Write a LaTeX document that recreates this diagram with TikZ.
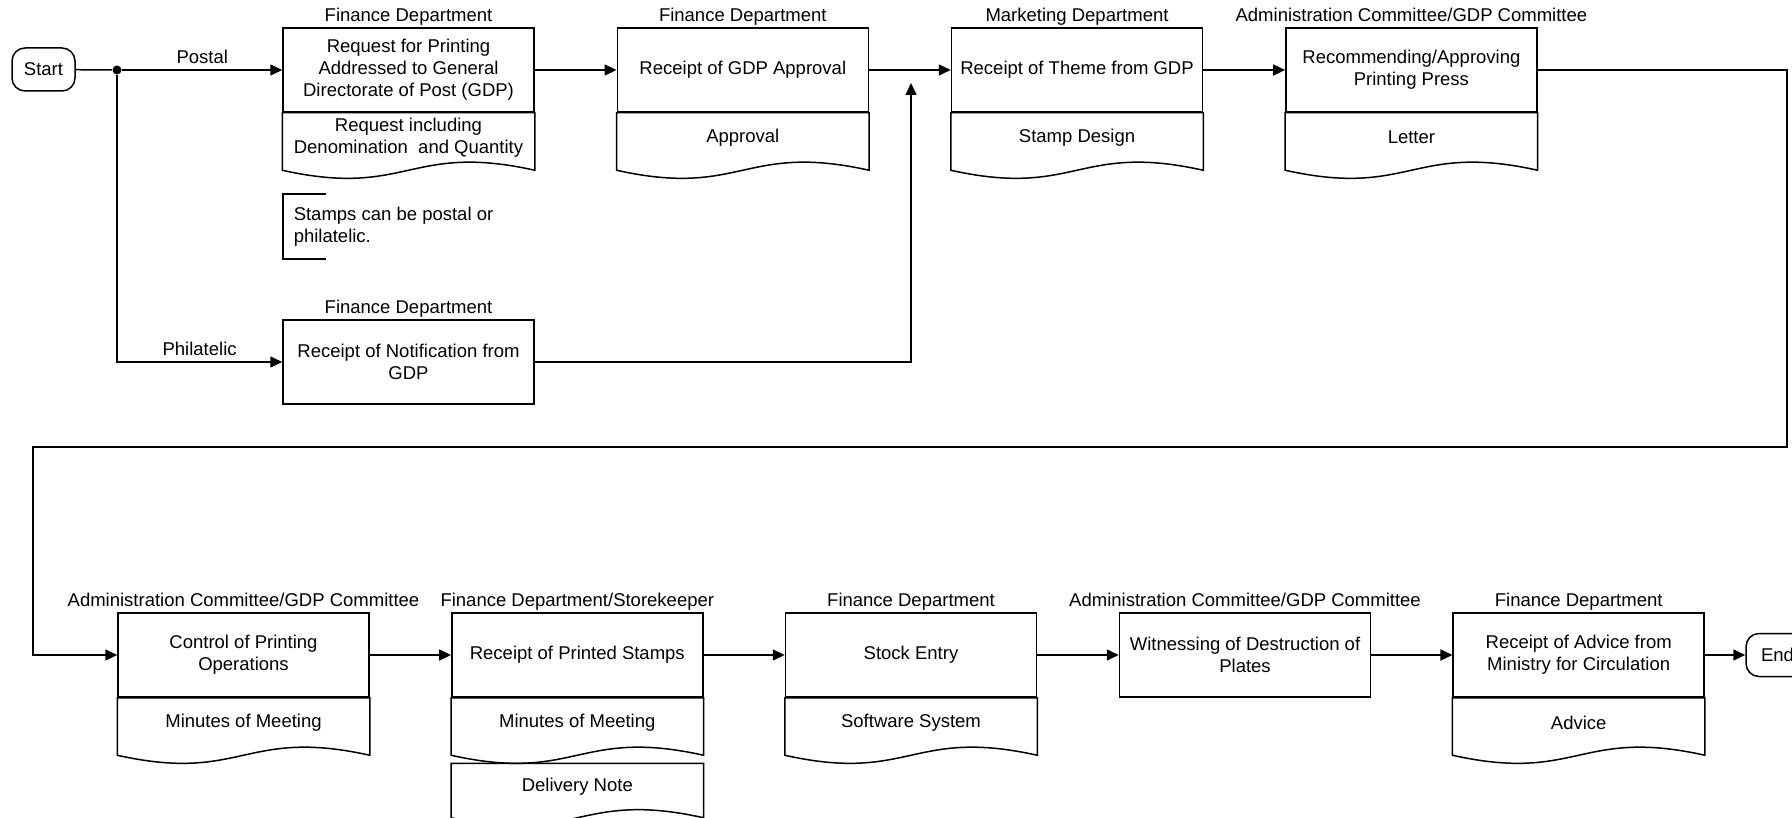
\documentclass[tikz,border=0pt]{standalone}
\usepackage{fontspec}
\setmainfont{Liberation Sans}
\usetikzlibrary{positioning,arrows.meta,calc}

\begin{document}
\begin{tikzpicture}[x=0.5pt,y=-0.5pt,line width=0.75pt,
    font=\fontsize{9.25}{11}\selectfont,
    >={Triangle[length=6pt,width=5.5pt]}]
\tikzset{
    terminal/.style={draw, rounded corners=6.5pt, minimum width=31.5pt,
                     minimum height=21.5pt, inner sep=1pt},
    process/.style={draw, rectangle, minimum width=125.5pt,
                    minimum height=42pt, align=center, inner sep=2pt},
    docpart/.style={rectangle, minimum width=125.5pt,
                    minimum height=24pt, align=center, inner sep=2pt},
    owner/.style={anchor=base, inner sep=0pt},
    branch/.style={above, inner sep=3pt},
    jdot/.style={circle, fill, inner sep=0pt, minimum size=4.5pt},
    note/.style={anchor=west, minimum height=31.5pt, inner xsep=5pt, align=left}
}
\useasboundingbox (0,0) rectangle (1792,818);

% upper row
\node[terminal] (start) at (43.5,69.5) {Start};
\node[jdot] (jct) at (117,70) {};

\node[owner] (o1) at (408.5,21.6) {Finance Department};
\node[process] (p1) at (408.5,70) {Request for Printing\\Addressed to General\\Directorate of Post (GDP)};
\node[docpart, below=0pt of p1] (d1) {Request including\\Denomination\ \ and Quantity};

\node[owner] (o2) at (742.8,21.6) {Finance Department};
\node[process] (p2) at (742.8,70) {Receipt of GDP Approval};
\node[docpart, below=0pt of p2] (d2) {Approval};

\node[owner] (o3) at (1077,21.6) {Marketing Department};
\node[process] (p3) at (1077,70) {Receipt of Theme from GDP};
\node[docpart, below=0pt of p3] (d3) {Stamp Design};

\node[owner] (o4) at (1411.4,21.6) {Administration Committee/GDP Committee};
\node[process] (p4) at (1411.4,70) {Recommending/Approving\\Printing Press};
\node[docpart, below=0pt of p4] (d4) {Letter};

\node[note] (nt) at (283,226.5) {Stamps can be postal or\\philatelic.};

\node[owner] (ox) at (408.5,313.6) {Finance Department};
\node[process] (px) at (408.5,362) {Receipt of Notification from\\GDP};

% lower row
\node[owner] (r1) at (243.5,606.6) {Administration Committee/GDP Committee};
\node[process] (q1) at (243.5,655) {Control of Printing\\Operations};
\node[docpart, below=0pt of q1] (e1) {Minutes of Meeting};

\node[owner] (r2) at (577.3,606.6) {Finance Department/Storekeeper};
\node[process] (q2) at (577.3,655) {Receipt of Printed Stamps};
\node[docpart, below=0pt of q2] (e2) {Minutes of Meeting};
\node[docpart, below=8pt of e2, minimum height=22.5pt] (e2b) {Delivery Note};

\node[owner] (r3) at (911,606.6) {Finance Department};
\node[process] (q3) at (911,655) {Stock Entry};
\node[docpart, below=0pt of q3] (e3) {Software System};

\node[owner] (r4) at (1245,606.6) {Administration Committee/GDP Committee};
\node[process] (q4) at (1245,655) {Witnessing of Destruction of\\Plates};

\node[owner] (r5) at (1578.7,606.6) {Finance Department};
\node[process] (q5) at (1578.7,655) {Receipt of Advice from\\Ministry for Circulation};
\node[docpart, below=0pt of q5] (e5) {Advice};

\node[terminal] (end) at (1777.5,655) {End};

% document outlines
\foreach \dn in {d1,d2,d3,d4,e1,e2,e2b,e3,e5}
    \draw (\dn.north west) -- ([yshift=-4pt]\dn.south west)
        .. controls +(125.5,28) and +(-125.5,-28) .. ([yshift=-4pt]\dn.south east)
        -- (\dn.north east) -- cycle;

% annotation bracket
\draw ([xshift=21.5pt]nt.north west) -- (nt.north west) -- (nt.south west)
      -- ([xshift=21.5pt]nt.south west);

% connectors
\coordinate (mrg) at (911,83);
\coordinate (rt) at (1787,447);
\coordinate (lf) at (33,447);

\draw (start) -- (jct);
\draw[->] (jct) -- node[branch] {Postal} (p1);
\draw[->] (jct) |- node[branch, pos=0.75] {Philatelic} (px);
\draw[->] (p1) -- (p2);
\draw[->] (px) -| (mrg);
\draw[->] (p2) -- (p3);
\draw[->] (p3) -- (p4);
\draw[->] (p4) -| (rt) -- (lf) |- (q1);
\draw[->] (q1) -- (q2);
\draw[->] (q2) -- (q3);
\draw[->] (q3) -- (q4);
\draw[->] (q4) -- (q5);
\draw[->] (q5) -- (end);
\end{tikzpicture}
\end{document}
